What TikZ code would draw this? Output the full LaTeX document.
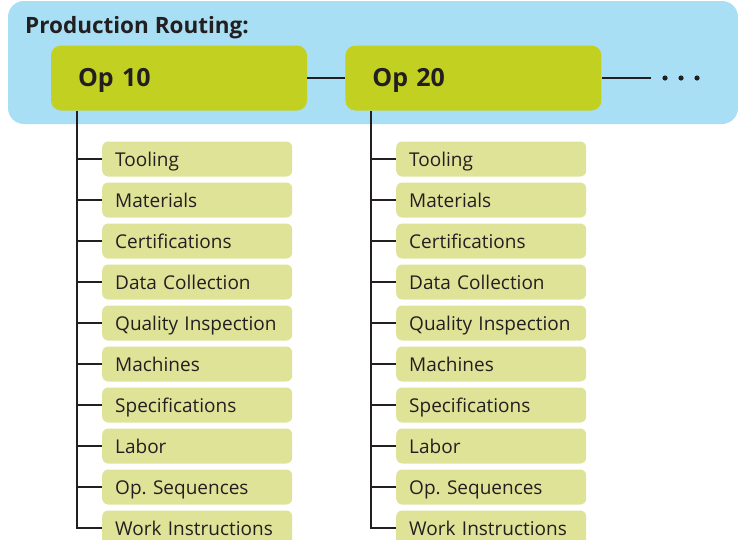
\documentclass[tikz,border=0pt]{standalone}
\usepackage{fontspec}
\setmainfont{Open Sans}
\usetikzlibrary{positioning, calc}

\definecolor{routeblue}{HTML}{A9DFF4}
\definecolor{opgreen}{HTML}{C2D022}
\definecolor{itemgreen}{HTML}{DEE398}
\definecolor{inkgray}{HTML}{231F20}

\begin{document}
\begin{tikzpicture}[
x=1pt, y=1pt,
opnode/.style={fill=opgreen, rounded corners=10pt, minimum width=256pt, minimum height=65pt,
  text width=202pt, inner xsep=27pt, text height=17pt, text depth=1pt, align=left,
  font=\fontsize{25}{29}\selectfont\bfseries, text=inkgray},
itemnode/.style={fill=itemgreen, rounded corners=6pt, minimum height=35pt,
  text width=164pt, inner xsep=13pt, text height=14pt, text depth=0pt, align=left,
  font=\fontsize{19}{22}\selectfont, text=inkgray},
link/.style={draw=inkgray, line width=2.2pt},
node distance=5.6pt
]
\useasboundingbox (0,0) rectangle (738,-539);

% background band
\fill[routeblue, rounded corners=16pt] (8,-1) rectangle (738,-124);
\node[anchor=base west, inner sep=0pt, font=\fontsize{22.5}{26}\selectfont\bfseries, text=inkgray] (title) at (25,-33) {Production Routing:};

% operations
\node[opnode] (op_10) at (179,-78) {Op 10};
\node[opnode] (op_20) [right=38pt of op_10] {Op 20};
\coordinate (more_end) at (651,-78);

% items of Op 10
\node[itemnode, anchor=west] (tool_1) at (102,-159) {Tooling};
\node[itemnode] (mat_1) [below=of tool_1] {Materials};
\node[itemnode] (cert_1) [below=of mat_1] {Certifications};
\node[itemnode] (data_1) [below=of cert_1] {Data Collection};
\node[itemnode] (qual_1) [below=of data_1] {Quality Inspection};
\node[itemnode] (mach_1) [below=of qual_1] {Machines};
\node[itemnode] (spec_1) [below=of mach_1] {Specifications};
\node[itemnode] (labor_1) [below=of spec_1] {Labor};
\node[itemnode] (seq_1) [below=of labor_1] {Op.\ Sequences};
\node[itemnode] (work_1) [below=of seq_1] {Work Instructions};

% items of Op 20
\node[itemnode, anchor=west] (tool_2) at (396,-159) {Tooling};
\node[itemnode] (mat_2) [below=of tool_2] {Materials};
\node[itemnode] (cert_2) [below=of mat_2] {Certifications};
\node[itemnode] (data_2) [below=of cert_2] {Data Collection};
\node[itemnode] (qual_2) [below=of data_2] {Quality Inspection};
\node[itemnode] (mach_2) [below=of qual_2] {Machines};
\node[itemnode] (spec_2) [below=of mach_2] {Specifications};
\node[itemnode] (labor_2) [below=of spec_2] {Labor};
\node[itemnode] (seq_2) [below=of labor_2] {Op.\ Sequences};
\node[itemnode] (work_2) [below=of seq_2] {Work Instructions};

% connectors
\path[link] (op_10) -- (op_20);
\path[link] (op_20) -- (more_end);
\foreach \k in {0,1,2} {
  \fill[inkgray] ($(more_end)+(14+16*\k,0)$) circle (2.6pt);
}

\coordinate (trunk_1) at ([xshift=26pt]op_10.south west);
\coordinate (trunk_2) at ([xshift=26pt]op_20.south west);
\path[link] (trunk_1) |- (work_1.west);
\path[link] (trunk_2) |- (work_2.west);
\foreach \item in {tool,mat,cert,data,qual,mach,spec,labor,seq} {
  \path[link] (trunk_1 |- \item_1.west) -- (\item_1.west);
  \path[link] (trunk_2 |- \item_2.west) -- (\item_2.west);
}

\end{tikzpicture}
\end{document}
